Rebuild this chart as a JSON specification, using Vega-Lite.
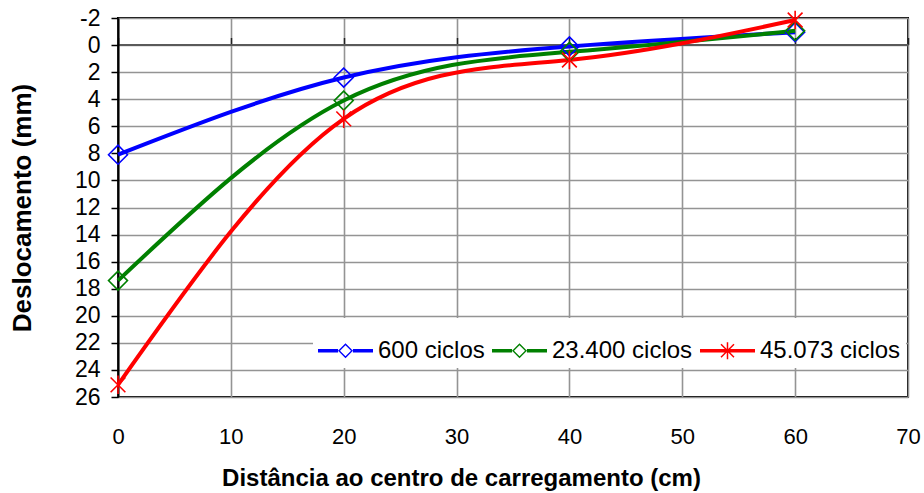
{
  "$schema": "https://vega.github.io/schema/vega-lite/v6.json",
  "autosize": {"type": "none"},
  "padding": {"left": 118, "top": 18, "right": 16, "bottom": 96},
  "width": 790,
  "height": 379,
  "background": "white",
  "config": {
    "view": {"stroke": "black", "strokeWidth": 2},
    "font": "Liberation Sans",
    "axis": {"labelOverlap": false},
    "axisY": {"labelOverlap": false}
  },
  "data": {
    "values": [
      {"distancia": 0, "deslocamento": 8.1, "serie": "600 ciclos"},
      {"distancia": 20, "deslocamento": 2.4, "serie": "600 ciclos"},
      {"distancia": 40, "deslocamento": 0.1, "serie": "600 ciclos"},
      {"distancia": 60, "deslocamento": -0.95, "serie": "600 ciclos"},
      {"distancia": 0, "deslocamento": 17.4, "serie": "23.400 ciclos"},
      {"distancia": 20, "deslocamento": 4.1, "serie": "23.400 ciclos"},
      {"distancia": 40, "deslocamento": 0.5, "serie": "23.400 ciclos"},
      {"distancia": 60, "deslocamento": -1.05, "serie": "23.400 ciclos"},
      {"distancia": 0, "deslocamento": 25.1, "serie": "45.073 ciclos"},
      {"distancia": 20, "deslocamento": 5.45, "serie": "45.073 ciclos"},
      {"distancia": 40, "deslocamento": 1.1, "serie": "45.073 ciclos"},
      {"distancia": 60, "deslocamento": -1.85, "serie": "45.073 ciclos"}
    ]
  },
  "layer": [
    {
      "mark": {"type": "line", "interpolate": "natural", "strokeWidth": 4},
      "encoding": {
        "x": {
          "field": "distancia", "type": "quantitative",
          "scale": {"domain": [0, 70], "nice": false, "zero": false},
          "axis": {
            "orient": "bottom",
            "title": "Distância ao centro de carregamento (cm)",
            "values": [0, 10, 20, 30, 40, 50, 60, 70],
            "grid": true, "gridColor": "#949494", "gridWidth": 1.6,
            "domain": false, "ticks": false,
            "labelFont": "Liberation Sans", "labelFontSize": 22, "labelColor": "black",
            "labelPadding": 46, "labelBaseline": "alphabetic", "labelFlush": false, "labelOverlap": false,
            "titleFont": "Liberation Sans", "titleFontSize": 24, "titleFontWeight": "bold", "titleColor": "black",
            "titleX": 343, "titleY": 88, "titleBaseline": "alphabetic", "titleAlign": "center", "titleAnchor": null
          }
        },
        "y": {
          "field": "deslocamento", "type": "quantitative",
          "scale": {"domain": [-2, 26], "nice": false, "zero": false, "reverse": true},
          "axis": {
            "title": "Deslocamento (mm)",
            "values": [-2, 0, 2, 4, 6, 8, 10, 12, 14, 16, 18, 20, 22, 24, 26],
            "labelExpr": "'' + datum.value",
            "grid": true, "gridColor": "#949494", "gridWidth": 1.6,
            "domain": true, "domainColor": "black", "domainWidth": 2,
            "ticks": true, "tickSize": 7, "tickColor": "black", "tickWidth": 1.5,
            "labelFont": "Liberation Sans", "labelFontSize": 23, "labelColor": "black",
            "labelPadding": 11, "labelFlush": false, "labelOverlap": false, "labelSeparation": 0,
            "titleFont": "Liberation Sans", "titleFontSize": 26, "titleFontWeight": "bold", "titleColor": "black",
            "titleX": -96, "titleY": 189.5, "titleAngle": -90, "titleBaseline": "middle", "titleAlign": "center", "titleAnchor": null
          }
        },
        "color": {
          "field": "serie", "type": "nominal",
          "scale": {
            "domain": ["600 ciclos", "23.400 ciclos", "45.073 ciclos"],
            "range": ["#0000FF", "#008000", "#FF0000"]
          },
          "legend": {
            "title": null,
            "orient": "none",
            "legendX": 195,
            "legendY": 300,
            "direction": "horizontal",
            "fillColor": "white",
            "padding": 5,
            "symbolSize": 3025,
            "symbolStrokeWidth": 0,
            "labelOffset": 5,
            "columnPadding": 7,
            "labelFont": "Liberation Sans",
            "labelFontSize": 24,
            "labelColor": "black",
            "labelLimit": 300,
            "encode": {
              "symbols": {
                "update": {
                  "shape": {"signal": "datum.value === '45.073 ciclos' ? 'M-1,-0.064H1V0.064H-1Z M-0.027,-0.31H0.027V0.31H-0.027Z M-0.217,-0.255L0.255,0.217L0.217,0.255L-0.255,-0.217Z M-0.217,0.255L-0.255,0.217L0.217,-0.255L0.255,-0.217Z' : 'M-1,-0.064H-0.27V0.064H-1Z M0.27,-0.064H1V0.064H0.27Z M0,-0.27L0.27,0L0,0.27L-0.27,0Z M0,-0.2L-0.2,0L0,0.2L0.2,0Z'"},
                  "fill": {"scale": "color", "field": "value"},
                  "fillOpacity": {"value": 1},
                  "stroke": {"value": "transparent"},
                  "strokeWidth": {"value": 0},
                  "opacity": {"value": 1}
                }
              }
            }
          }
        }
      }
    },
    {
      "transform": [{"filter": {"field": "serie", "oneOf": ["600 ciclos", "23.400 ciclos"]}}],
      "mark": {"type": "point", "shape": "diamond", "filled": false, "size": 360, "strokeWidth": 1.6, "opacity": 1},
      "encoding": {
        "x": {
          "field": "distancia", "type": "quantitative",
          "axis": {
            "orient": "top", "offset": -26.5, "title": null,
            "values": [0, 10, 20, 30, 40, 50, 60, 70],
            "grid": false, "labels": false,
            "domain": true, "domainColor": "#5a5a5a", "domainWidth": 2,
            "ticks": true, "tickSize": 7, "tickColor": "#222222", "tickWidth": 1.5
          }
        },
        "y": {"field": "deslocamento", "type": "quantitative", "axis": null},
        "color": {"field": "serie", "type": "nominal"}
      }
    },
    {
      "transform": [{"filter": {"field": "serie", "equal": "45.073 ciclos"}}],
      "mark": {"type": "point", "shape": "M-0.8,-0.8L0.8,0.8M-0.8,0.8L0.8,-0.8M0,-1V1", "filled": false, "size": 340, "strokeWidth": 1.6, "opacity": 1},
      "encoding": {
        "x": {"field": "distancia", "type": "quantitative", "axis": null},
        "y": {"field": "deslocamento", "type": "quantitative", "axis": null},
        "color": {"field": "serie", "type": "nominal"}
      }
    }
  ],
  "resolve": {"axis": {"x": "independent", "y": "independent"}}
}
